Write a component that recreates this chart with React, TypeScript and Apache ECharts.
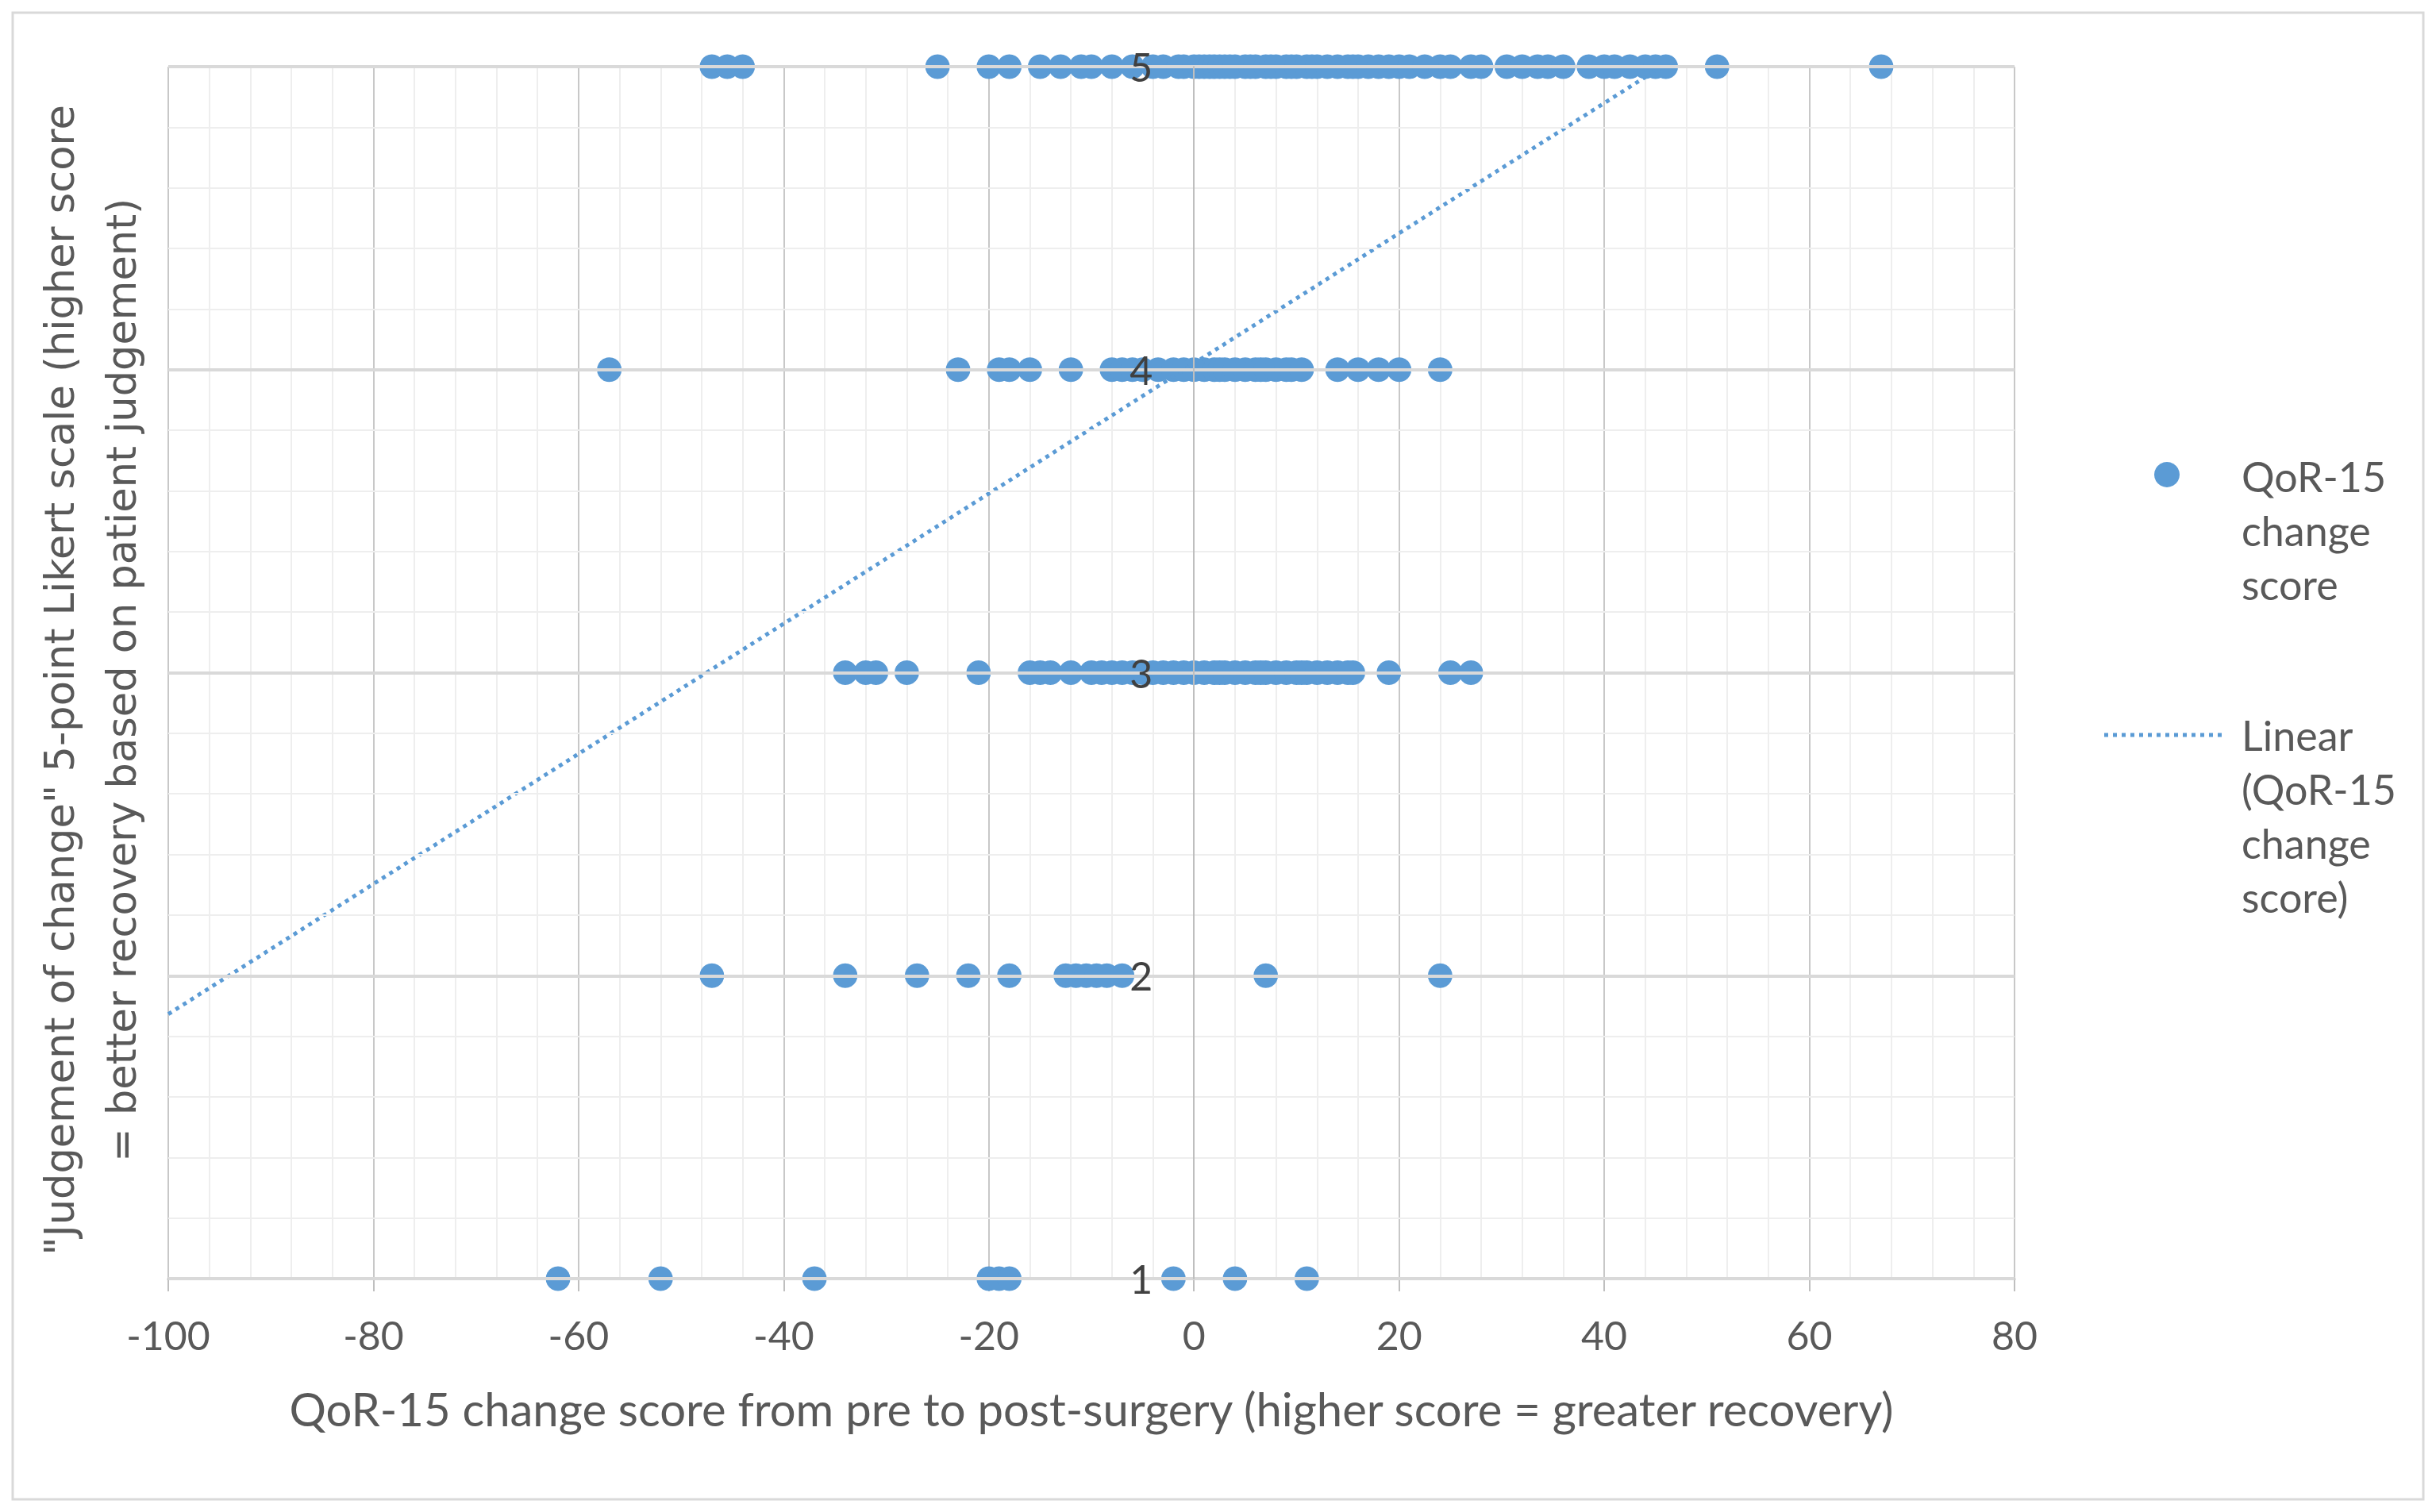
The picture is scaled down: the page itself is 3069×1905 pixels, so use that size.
import React, { useEffect, useRef } from "react";
import * as echarts from "echarts";

// Likert level 5..1 -> QoR-15 change scores
const row5X = [-47, -45.5, -44, -25, -20, -18, -15, -13, -11, -10, -8, -6, -4, -3, -1.5, -1, 0, 0.5, 1, 1.5, 2, 2.5, 3, 3.5, 4, 5, 5.5, 6, 7, 7.5, 8, 9, 9.5, 10, 11, 11.5, 12, 13, 14, 15, 15.5, 16, 17, 18, 19, 20, 21, 22.5, 24, 25, 27, 28, 30.5, 32, 33.5, 34.5, 36, 38.5, 40, 41, 42.5, 44, 45, 46, 51, 67];
const row4X = [-57, -23, -19, -18, -16, -12, -8, -7, -6, -5, -3.5, -2, -1, 0, 1, 2, 2.5, 3, 4, 5, 6, 6.5, 7, 8, 9, 9.5, 10.5, 14, 16, 18, 20, 24];
const row3X = [-34, -32, -31, -28, -21, -16, -15, -14, -12, -10, -9, -8, -7, -6, -5, -4, -3, -2, -1, 0, 1, 2, 2.5, 3, 4, 5, 6, 6.5, 7, 8, 9, 10, 10.5, 11, 12, 13, 14, 15, 15.5, 19, 25, 27];
const row2X = [-47, -34, -27, -22, -18, -12.5, -11.5, -10.5, -9.5, -8.5, -7, 7, 24];
const row1X = [-62, -52, -37, -20, -19, -18, -2, 4, 11];
const rowsX = [row1X, row2X, row3X, row4X, row5X];
const rowLevels = [1, 2, 3, 4, 5];

// Linear trendline endpoints (clipped at plot top)
const trendX = [-100, 45.6];
const trendY = [1.873, 5];

const xTitle = "QoR-15 change score from pre to post-surgery (higher score = greater recovery)";
const yTitle = "\"Judgement of change\" 5-point Likert scale (higher score\n= better recovery based on patient judgement)";
const seriesName = "QoR-15 change score";
const trendName = "Linear (QoR-15 change score)";

const BLUE = "#5b9bd5";
const FONT = "Lato, 'Open Sans', sans-serif";

const X_MIN = -100;
const X_MAX = 80;
const GRID_W = 2326;

export default function App() {
  const ref = useRef<HTMLDivElement>(null);
  useEffect(() => {
    if (!ref.current) return;
    const chart = echarts.init(ref.current, undefined, { renderer: "svg" });
    const pts: number[][] = [];
    rowsX.forEach((xs, i) => xs.forEach((x) => pts.push([x, rowLevels[i]])));
    const trend = trendX.map((x, i) => [x, trendY[i]]);
    // vertical axis crosses at x = 0 (as in the source chart)
    const zeroOffset = -GRID_W * (0 - X_MIN) / (X_MAX - X_MIN);
    chart.setOption({
      animation: false,
      backgroundColor: "#ffffff",
      grid: { left: 204, top: 76, width: GRID_W, height: 1527, containLabel: false },
      xAxis: {
        type: "value",
        min: X_MIN,
        max: X_MAX,
        interval: 20,
        name: xTitle,
        nameLocation: "middle",
        nameGap: 134,
        nameTextStyle: { fontFamily: FONT, fontSize: 58, color: "#595959" },
        axisLine: { show: true, onZero: false, lineStyle: { color: "#bfbfbf", width: 3 } },
        axisTick: { show: true, length: 16, lineStyle: { color: "#bfbfbf", width: 2 } },
        axisLabel: { fontFamily: FONT, fontSize: 50, color: "#595959", margin: 46 },
        splitLine: { show: true, lineStyle: { color: "#c8c8c8", width: 2 } },
        minorTick: { show: false, splitNumber: 5 },
        minorSplitLine: { show: true, lineStyle: { color: "#eeeeee", width: 2 } },
      },
      yAxis: {
        type: "value",
        min: 1,
        max: 5,
        interval: 1,
        z: 10,
        offset: zeroOffset,
        axisLine: { show: true, onZero: false, lineStyle: { color: "#bfbfbf", width: 2 } },
        axisTick: { show: false },
        axisLabel: { fontFamily: FONT, fontSize: 50, color: "#404040", margin: 52 },
        splitLine: { show: true, lineStyle: { color: "#d9d9d9", width: 4 } },
        minorTick: { show: false, splitNumber: 5 },
        minorSplitLine: { show: true, lineStyle: { color: "#eeeeee", width: 2 } },
      },
      series: [
        {
          name: seriesName,
          type: "scatter",
          data: pts,
          symbol: "circle",
          symbolSize: 31,
          itemStyle: { color: BLUE, opacity: 1 },
          z: 2,
        },
        {
          name: trendName,
          type: "line",
          data: trend,
          symbol: "none",
          lineStyle: { color: BLUE, width: 5, type: [5, 6] },
          z: 3,
        },
      ],
      graphic: [
        {
          type: "rect",
          shape: { x: 8, y: 8, width: 3037, height: 1873 },
          style: { fill: "none", stroke: "#d9d9d9", lineWidth: 3 },
          silent: true,
        },
        {
          type: "text",
          x: 106,
          y: 849,
          rotation: Math.PI / 2,
          style: {
            text: yTitle,
            fontFamily: "'DejaVu Sans', Verdana, sans-serif",
            fontSize: 51,
            lineHeight: 78,
            fill: "#595959",
            align: "center",
            verticalAlign: "middle",
          },
        },
        {
          type: "circle",
          shape: { cx: 2722, cy: 590, r: 16 },
          style: { fill: BLUE },
        },
        {
          type: "text",
          x: 2816,
          y: 558,
          style: {
            text: "QoR-15\nchange\nscore",
            fontFamily: FONT,
            fontSize: 52,
            lineHeight: 68,
            fill: "#595959",
            align: "left",
            verticalAlign: "top",
          },
        },
        {
          type: "line",
          shape: { x1: 2643, y1: 918, x2: 2796, y2: 918 },
          style: { stroke: BLUE, lineWidth: 5, lineDash: [5, 6] },
        },
        {
          type: "text",
          x: 2816,
          y: 884,
          style: {
            text: "Linear\n(QoR-15\nchange\nscore)",
            fontFamily: FONT,
            fontSize: 52,
            lineHeight: 68,
            fill: "#595959",
            align: "left",
            verticalAlign: "top",
          },
        },
      ],
    });
    return () => chart.dispose();
  }, []);
  return <div ref={ref} style={{ width: 3053, height: 1889 }} />;
}
